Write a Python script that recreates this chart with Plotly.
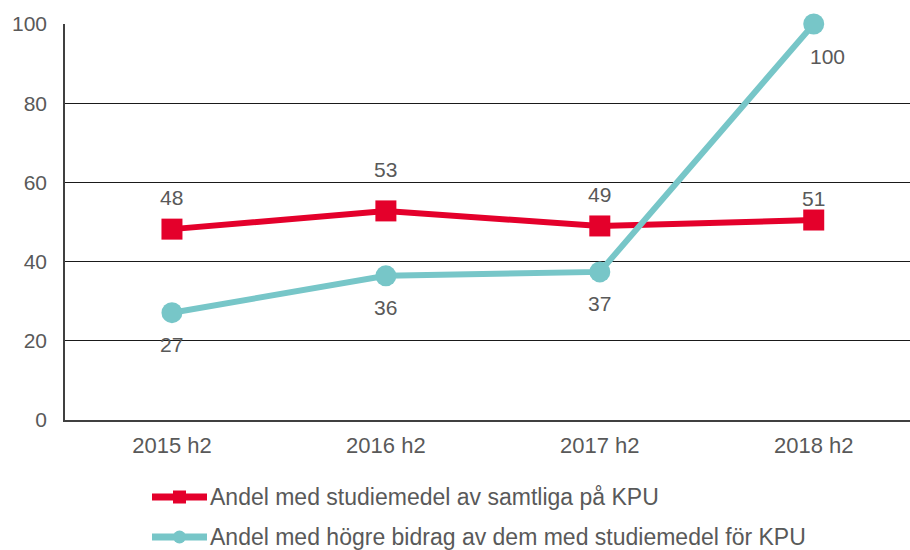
import plotly.graph_objects as go

periods = ["2015 h2", "2016 h2", "2017 h2", "2018 h2"]
andel_samtliga = [48.2, 52.8, 49.0, 50.5]
andel_samtliga_labels = ["48", "53", "49", "51"]
andel_hogre = [27.1, 36.4, 37.4, 100.0]
andel_hogre_labels = ["27", "36", "37", "100"]

name_red = "Andel med studiemedel av samtliga på KPU"
name_teal = "Andel med högre bidrag av dem med studiemedel för KPU"

RED = "#e4002b"
TEAL = "#77c6c8"
TXT = "#595959"

fig = go.Figure()
fig.add_trace(go.Scatter(
    x=periods, y=andel_samtliga, name=name_red, mode="lines+markers",
    line=dict(color=RED, width=6),
    marker=dict(symbol="square", size=21, color=RED),
    cliponaxis=False,
))
fig.add_trace(go.Scatter(
    x=periods, y=andel_hogre, name=name_teal, mode="lines+markers",
    line=dict(color=TEAL, width=6),
    marker=dict(symbol="circle", size=21, color=TEAL),
    cliponaxis=False,
))

# data labels (red above, teal below)
red_shift = [32, 41, 31, 22]
for p, v, t, s in zip(periods, andel_samtliga, andel_samtliga_labels, red_shift):
    fig.add_annotation(x=p, y=v, text=t, showarrow=False, yshift=s,
                       font=dict(size=21, color=TXT))
teal_x = [0, 0, 0, 14]
for p, v, t, dx in zip(periods, andel_hogre, andel_hogre_labels, teal_x):
    fig.add_annotation(x=p, y=v, text=t, showarrow=False, yshift=-32, xshift=dx,
                       font=dict(size=21, color=TXT))

# legend drawn by hand below the plot (container pixels -> paper fractions)
W, H = 910, 550
ml, mr, mt, mb = 65, 0, 24, 130
pw, ph = W - ml - mr, H - mt - mb


def px_x(x):
    return (x - ml) / pw


def px_y(y):
    return (H - mb - y) / ph


legend_rows = [(name_red, RED, "rect", 497), (name_teal, TEAL, "circle", 537)]
for name, col, shp, yy in legend_rows:
    fig.add_shape(type="line", xref="paper", yref="paper",
                  x0=px_x(152), x1=px_x(207), y0=px_y(yy), y1=px_y(yy),
                  line=dict(color=col, width=7))
    fig.add_shape(type=shp, xref="paper", yref="paper",
                  x0=px_x(173), x1=px_x(186), y0=px_y(yy - 6.5), y1=px_y(yy + 6.5),
                  fillcolor=col, line=dict(color=col, width=0))
    fig.add_annotation(xref="paper", yref="paper", x=px_x(208), y=px_y(yy),
                       xanchor="left", yanchor="middle", text=name, showarrow=False,
                       font=dict(size=23, color=TXT))

fig.update_layout(
    width=W, height=H,
    margin=dict(l=ml, r=mr, t=mt, b=mb),
    paper_bgcolor="white", plot_bgcolor="white",
    font=dict(family="Liberation Sans, Arial, sans-serif", color=TXT, size=21),
    showlegend=False,
)
fig.update_xaxes(
    range=[-0.5, 3.45], showgrid=False, showline=True, linecolor="#404040",
    linewidth=1.5, ticks="", tickfont=dict(size=22, color=TXT), ticklabelstandoff=5,
    automargin=False,
)
fig.update_yaxes(
    range=[0, 100], dtick=20, showgrid=True, gridcolor="#1a1a1a", gridwidth=1,
    showline=True, linecolor="#404040", linewidth=1.5, zeroline=False,
    ticks="", tickfont=dict(size=21, color=TXT), ticklabelstandoff=12,
    automargin=False,
)

# the page's default body margin would shift the figure by 8px
fig.write_html("out.html", config={"displayModeBar": False},
               post_script="document.body.style.margin='0';")
